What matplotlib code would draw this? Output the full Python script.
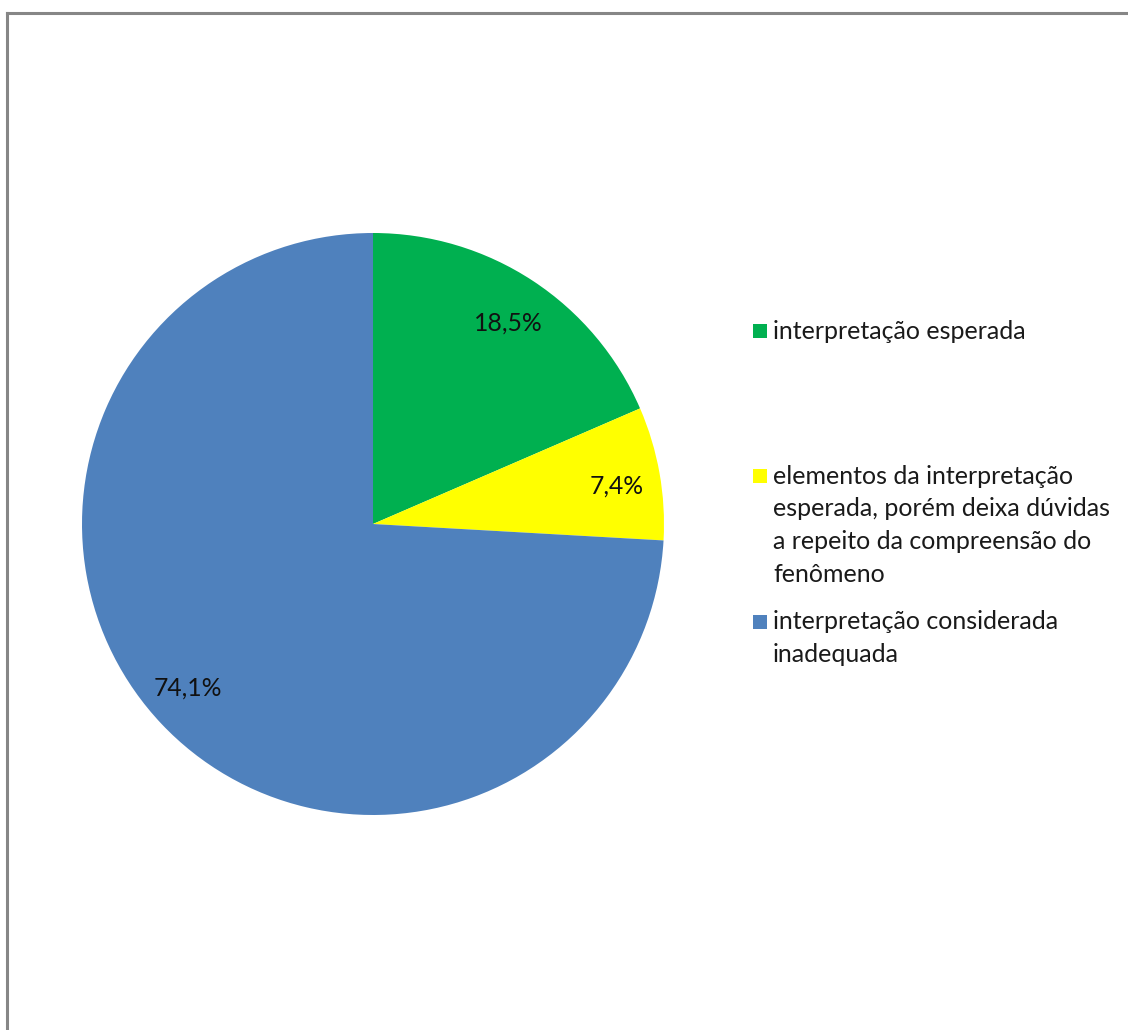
# Pie chart - interpretação dos alunos
from matplotlib import pyplot as plt
from matplotlib.patches import Rectangle
from matplotlib.lines import Line2D

plt.rcParams['font.family'] = ['Lato', 'DejaVu Sans']

# data
categorias = ["interpretação esperada",
              "elementos da interpretação\nesperada, porém deixa dúvidas\na repeito da compreensão do\nfenômeno",
              "interpretação considerada\ninadequada"]
valores = [18.5, 7.4, 74.1]
cores = ["#00B050", "#FFFF00", "#4F81BD"]

W, H = 1128, 1030
fig = plt.figure(figsize=(W/100, H/100), dpi=100)

# moldura (só aparecem a borda esquerda e a de cima)
fig.add_artist(Line2D([7/W, 7/W], [0, 1 - 13/H], color="#868686", lw=2.2))
fig.add_artist(Line2D([7/W, 1], [1 - 13/H, 1 - 13/H], color="#868686", lw=2.2))

# pizza
cx, cy, r = 373, 524, 291
ax = fig.add_axes([(cx - r)/W, (H - cy - r)/H, 2*r/W, 2*r/H])
wedges, textos, pcts = ax.pie(valores, colors=cores, startangle=90, counterclock=False,
       autopct=lambda p: f"{p:.1f}%".replace(".", ","), pctdistance=0.85,
       textprops={"fontsize": 17.8, "color": "#111111"})
# pequenos ajustes dos rótulos para ficarem onde o Excel os põe
ajustes = [(0.0, -0.02), (0.0, -0.02), (-0.017, 0.02)]
for t, (dx, dy) in zip(pcts, ajustes):
    x, y = t.get_position()
    t.set_position((x + dx, y + dy))
ax.set_xlim(-1, 1)
ax.set_ylim(-1, 1)
ax.axis("off")

# legenda feita à mão (espaçamento irregular como no Excel)
leg_y = [331, 476, 621]
box_y = [331, 476, 622]
for cat, cor, ty, by in zip(categorias, cores, leg_y, box_y):
    fig.add_artist(Rectangle((753/W, 1 - (by + 7)/H), 14/W, 14/H,
                             facecolor=cor, edgecolor="none"))
    fig.text(773/W, 1 - (ty - 11)/H, cat, fontsize=18, va="top", ha="left",
             color="#1a1a1a", linespacing=1.5)

fig.savefig("out.png", dpi=100)
